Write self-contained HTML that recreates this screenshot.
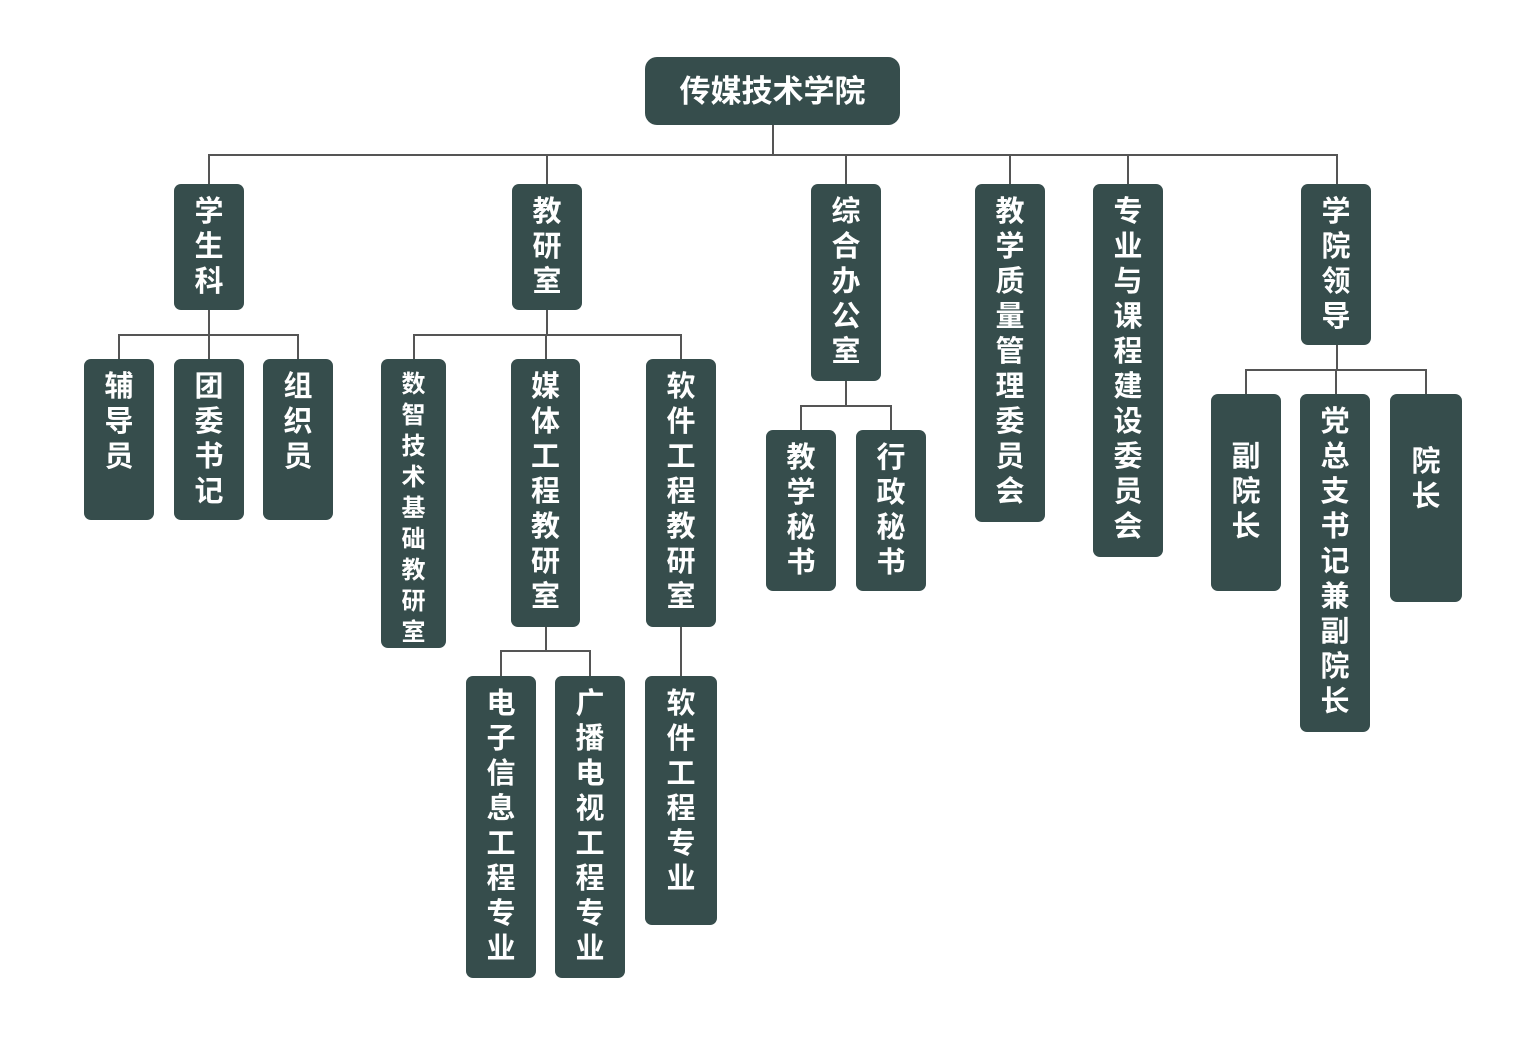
<!DOCTYPE html>
<html><head><meta charset="utf-8"><style>
body{margin:0;width:1532px;height:1064px;background:#fff;position:relative;overflow:hidden;font-family:"Liberation Sans","Noto Sans CJK SC",sans-serif}
.b{position:absolute;box-sizing:border-box;padding-top:11px;background:#364d4c;border-radius:7px;color:#fff;font-weight:bold;display:flex;flex-direction:column;align-items:center;justify-content:flex-start;font-size:29px;line-height:35px}
.b span{display:block}
.h,.v{position:absolute;background:#555}
.h{height:2px}.v{width:2px}
</style></head><body>
<div class="b" style="left:645px;top:57px;width:255px;height:68px;border-radius:12px;flex-direction:row;justify-content:center;align-items:center;padding-top:0;font-size:31px">传媒技术学院</div>
<div class="v" style="left:772px;top:125px;height:31px"></div>
<div class="h" style="left:208px;top:154px;width:1130px"></div>
<div class="v" style="left:208px;top:154px;height:30px"></div>
<div class="v" style="left:546px;top:154px;height:30px"></div>
<div class="v" style="left:845px;top:154px;height:30px"></div>
<div class="v" style="left:1009px;top:154px;height:30px"></div>
<div class="v" style="left:1127px;top:154px;height:30px"></div>
<div class="v" style="left:1336px;top:154px;height:30px"></div>

<div class="b" style="left:174px;top:184px;width:70px;height:126px"><span>学</span><span>生</span><span>科</span></div>
<div class="b" style="left:512px;top:184px;width:70px;height:126px"><span>教</span><span>研</span><span>室</span></div>
<div class="b" style="left:811px;top:184px;width:70px;height:197px"><span>综</span><span>合</span><span>办</span><span>公</span><span>室</span></div>
<div class="b" style="left:975px;top:184px;width:70px;height:338px"><span>教</span><span>学</span><span>质</span><span>量</span><span>管</span><span>理</span><span>委</span><span>员</span><span>会</span></div>
<div class="b" style="left:1093px;top:184px;width:70px;height:373px"><span>专</span><span>业</span><span>与</span><span>课</span><span>程</span><span>建</span><span>设</span><span>委</span><span>员</span><span>会</span></div>
<div class="b" style="left:1301px;top:184px;width:70px;height:161px"><span>学</span><span>院</span><span>领</span><span>导</span></div>

<div class="v" style="left:208px;top:310px;height:25px"></div>
<div class="h" style="left:118px;top:334px;width:181px"></div>
<div class="v" style="left:118px;top:334px;height:25px"></div>
<div class="v" style="left:208px;top:334px;height:25px"></div>
<div class="v" style="left:297px;top:334px;height:25px"></div>
<div class="b" style="left:84px;top:359px;width:70px;height:161px"><span>辅</span><span>导</span><span>员</span></div>
<div class="b" style="left:174px;top:359px;width:70px;height:161px"><span>团</span><span>委</span><span>书</span><span>记</span></div>
<div class="b" style="left:263px;top:359px;width:70px;height:161px"><span>组</span><span>织</span><span>员</span></div>

<div class="v" style="left:546px;top:310px;height:25px"></div>
<div class="h" style="left:413px;top:334px;width:269px"></div>
<div class="v" style="left:413px;top:334px;height:25px"></div>
<div class="v" style="left:545px;top:334px;height:25px"></div>
<div class="v" style="left:680px;top:334px;height:25px"></div>
<div class="b" style="left:381px;top:359px;width:65px;height:289px;font-size:24px;line-height:31px;padding-top:10px"><span>数</span><span>智</span><span>技</span><span>术</span><span>基</span><span>础</span><span>教</span><span>研</span><span>室</span></div>
<div class="b" style="left:511px;top:359px;width:69px;height:268px"><span>媒</span><span>体</span><span>工</span><span>程</span><span>教</span><span>研</span><span>室</span></div>
<div class="b" style="left:646px;top:359px;width:70px;height:268px"><span>软</span><span>件</span><span>工</span><span>程</span><span>教</span><span>研</span><span>室</span></div>

<div class="v" style="left:545px;top:627px;height:24px"></div>
<div class="h" style="left:500px;top:650px;width:91px"></div>
<div class="v" style="left:500px;top:650px;height:26px"></div>
<div class="v" style="left:589px;top:650px;height:26px"></div>
<div class="b" style="left:466px;top:676px;width:70px;height:302px"><span>电</span><span>子</span><span>信</span><span>息</span><span>工</span><span>程</span><span>专</span><span>业</span></div>
<div class="b" style="left:555px;top:676px;width:70px;height:302px"><span>广</span><span>播</span><span>电</span><span>视</span><span>工</span><span>程</span><span>专</span><span>业</span></div>
<div class="v" style="left:680px;top:627px;height:49px"></div>
<div class="b" style="left:645px;top:676px;width:72px;height:249px"><span>软</span><span>件</span><span>工</span><span>程</span><span>专</span><span>业</span></div>

<div class="v" style="left:845px;top:381px;height:25px"></div>
<div class="h" style="left:800px;top:405px;width:92px"></div>
<div class="v" style="left:800px;top:405px;height:25px"></div>
<div class="v" style="left:890px;top:405px;height:25px"></div>
<div class="b" style="left:766px;top:430px;width:70px;height:161px"><span>教</span><span>学</span><span>秘</span><span>书</span></div>
<div class="b" style="left:856px;top:430px;width:70px;height:161px"><span>行</span><span>政</span><span>秘</span><span>书</span></div>

<div class="v" style="left:1336px;top:345px;height:25px"></div>
<div class="h" style="left:1245px;top:369px;width:182px"></div>
<div class="v" style="left:1245px;top:369px;height:25px"></div>
<div class="v" style="left:1335px;top:369px;height:25px"></div>
<div class="v" style="left:1425px;top:369px;height:25px"></div>
<div class="b" style="left:1211px;top:394px;width:70px;height:197px;padding-top:46px"><span>副</span><span>院</span><span>长</span></div>
<div class="b" style="left:1300px;top:394px;width:70px;height:338px"><span>党</span><span>总</span><span>支</span><span>书</span><span>记</span><span>兼</span><span>副</span><span>院</span><span>长</span></div>
<div class="b" style="left:1390px;top:394px;width:72px;height:208px;padding-top:51px"><span>院</span><span>长</span></div>
</body></html>
